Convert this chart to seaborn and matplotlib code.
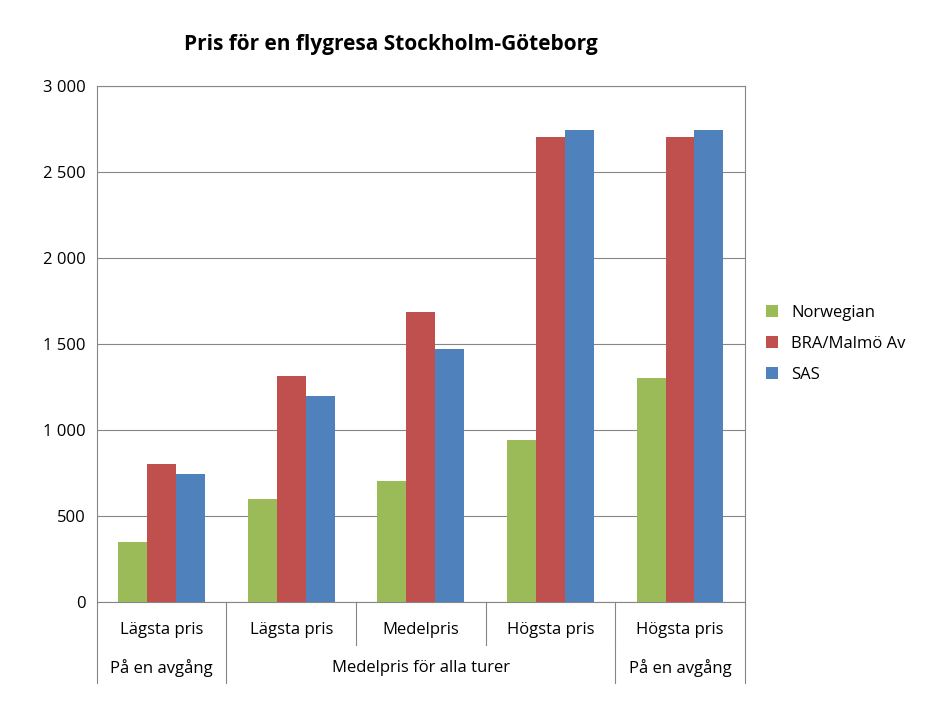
import pandas as pd
import matplotlib.pyplot as plt
import seaborn as sns
from matplotlib.ticker import FuncFormatter

# data
kategorier = ["Lägsta pris", "Lägsta pris", "Medelpris", "Högsta pris", "Högsta pris"]
grupper = ["På en avgång", "Medelpris för alla turer", "På en avgång"]
grupp_spann = [(0, 1), (1, 4), (4, 5)]
bolag = ["Norwegian", "BRA/Malmö Av", "SAS"]
norwegian = [345, 600, 700, 940, 1300]
bra = [800, 1310, 1685, 2700, 2700]
sas = [745, 1195, 1470, 2745, 2745]

rows = []
for i in range(len(kategorier)):
    for namn, serie in zip(bolag, [norwegian, bra, sas]):
        rows.append({"pos": i, "bolag": namn, "pris": serie[i]})
df = pd.DataFrame(rows)

plt.rcParams["font.family"] = "Open Sans"
fig = plt.figure(figsize=(9.31, 7.08), dpi=100)
ax = fig.add_axes([0.104, 0.150, 0.696, 0.729])

sns.barplot(data=df, x="pos", y="pris", hue="bolag", hue_order=bolag,
            palette=["#9BBB59", "#C0504D", "#4F81BD"], width=0.67,
            saturation=1, ax=ax, zorder=3)

ax.set_xlim(-0.5, 4.5)
ax.set_ylim(0, 3000)
ax.set_yticks(range(0, 3001, 500))
ax.yaxis.set_major_formatter(FuncFormatter(lambda v, p: f"{int(v):,}".replace(",", " ")))
ax.grid(axis="y", color="#868686", linewidth=0.8, zorder=0)
ax.tick_params(axis="y", labelsize=12, length=0, pad=8)
ax.set_xticks([])
ax.set_xlabel("")
ax.set_ylabel("")
for s in ax.spines.values():
    s.set_color("#868686")

# kategoriaxel i två nivåer
trans = ax.get_xaxis_transform()
for i, lab in enumerate(kategorier):
    ax.text(i, -0.055, lab, transform=trans, ha="center", va="center", fontsize=12)
for x in [-0.5, 0.5, 1.5, 2.5, 3.5, 4.5]:
    ax.plot([x, x], [0, -0.083], transform=trans, color="#868686", lw=0.8, clip_on=False)
for (a, b), lab in zip(grupp_spann, grupper):
    ax.text((a + b) / 2 - 0.5, -0.128, lab, transform=trans, ha="center", va="center", fontsize=12)
for x in [-0.5, 0.5, 3.5, 4.5]:
    ax.plot([x, x], [-0.083, -0.158], transform=trans, color="#868686", lw=0.8, clip_on=False)

ax.legend(loc="center left", bbox_to_anchor=(1.01, 0.5), frameon=False, fontsize=12,
          handlelength=0.7, handleheight=0.7, labelspacing=0.9)

fig.text(0.42, 0.937, "Pris för en flygresa Stockholm-Göteborg", ha="center", va="center",
         fontsize=15, fontweight="bold")

fig.savefig("out.png", dpi=100)
